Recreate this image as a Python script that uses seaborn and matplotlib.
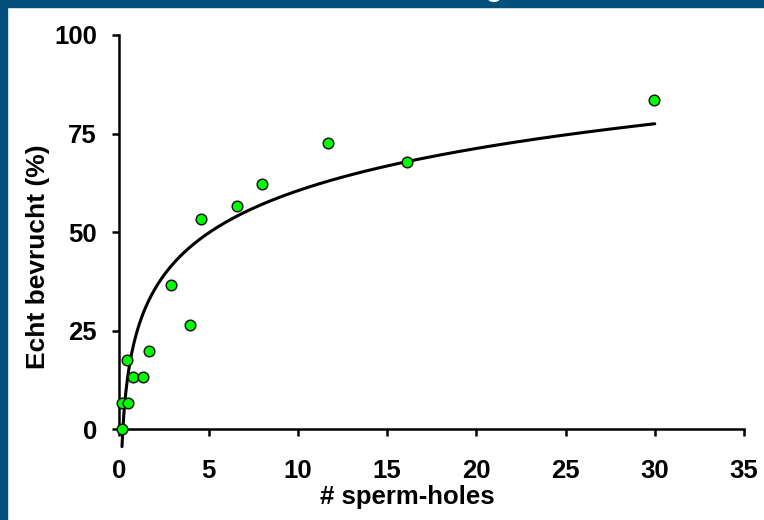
import numpy as np
import pandas as pd
import seaborn as sns
import matplotlib.pyplot as plt
from matplotlib.patches import Rectangle

# measured points
holes = [0.17, 0.17, 0.47, 0.45, 0.78, 1.34, 1.65, 2.88, 3.96, 4.56, 6.61, 7.99, 11.71, 16.12, 29.97]
fertilized = [0.0, 6.6, 6.6, 17.7, 13.2, 13.2, 19.9, 36.7, 26.6, 53.3, 56.7, 62.2, 72.5, 67.9, 83.4]

# logarithmic trendline y = a + b*ln(x)
fit_a = 24.95
fit_b = 15.45
fit_start, fit_end = 0.15, 30.0

x_ticks = [0, 5, 10, 15, 20, 25, 30, 35]
y_ticks = [0, 25, 50, 75, 100]

df = pd.DataFrame({"holes": holes, "fert": fertilized})
xs = np.geomspace(fit_start, fit_end, 300)
curve = pd.DataFrame({"holes": xs, "fert": fit_a + fit_b * np.log(xs)})

sns.set_style("white")
plt.rcParams["font.family"] = ["Liberation Sans", "DejaVu Sans"]
plt.rcParams["font.weight"] = "bold"
plt.rcParams["text.color"] = "black"

fig = plt.figure(figsize=(7.64, 5.2), dpi=100)
ax = fig.add_axes([119.3 / 764, 0.1362, 624.7 / 764, 0.7965])

sns.lineplot(data=curve, x="holes", y="fert", color="black", linewidth=2.2, ax=ax, zorder=2)
sns.scatterplot(data=df, x="holes", y="fert", color="#00ff00", edgecolor="#1a1a1a",
                linewidth=1.1, s=58, ax=ax, zorder=3, clip_on=False)

ax.set_xlim(0, 35)
ax.set_ylim(-5, 100)
ax.set_xticks(x_ticks)
ax.set_yticks(y_ticks)
ax.spines["bottom"].set_position(("data", 0))
ax.spines["bottom"].set_bounds(0, 35)
ax.spines["left"].set_bounds(0, 100)
for s in ["top", "right"]:
    ax.spines[s].set_visible(False)
for s in ["bottom", "left"]:
    ax.spines[s].set_linewidth(1.8)
    ax.spines[s].set_color("black")
ax.tick_params(axis="both", bottom=True, left=True, direction="out", length=5, width=1.8,
               colors="black", labelcolor="black", labelsize=18.5)
ax.tick_params(axis="x", pad=16)
ax.tick_params(axis="y", pad=11)
for lab in ax.get_xticklabels() + ax.get_yticklabels():
    lab.set_fontweight("bold")

ax.set_xlabel("# sperm-holes", fontsize=18.5, fontweight="bold", va="center", color="black")
ax.set_ylabel("Echt bevrucht (%)", fontsize=19, fontweight="bold", va="center", color="black")
ax.xaxis.set_label_coords(0.4605, -0.115)
ax.yaxis.set_label_coords(-0.130, 0.464)

# blue frame from the slide
blue = "#03507d"
fig.patches.append(Rectangle((0, 0), 7 / 764, 1, transform=fig.transFigure, color=blue, zorder=0))
fig.patches.append(Rectangle((0, 1 - 7 / 520), 1, 7 / 520, transform=fig.transFigure, color=blue, zorder=0))
fig.text(494 / 764, 1 + 5 / 520, "g", color="white", fontsize=24, ha="center", va="baseline",
         fontweight="normal")

fig.savefig("out.png", dpi=100)
